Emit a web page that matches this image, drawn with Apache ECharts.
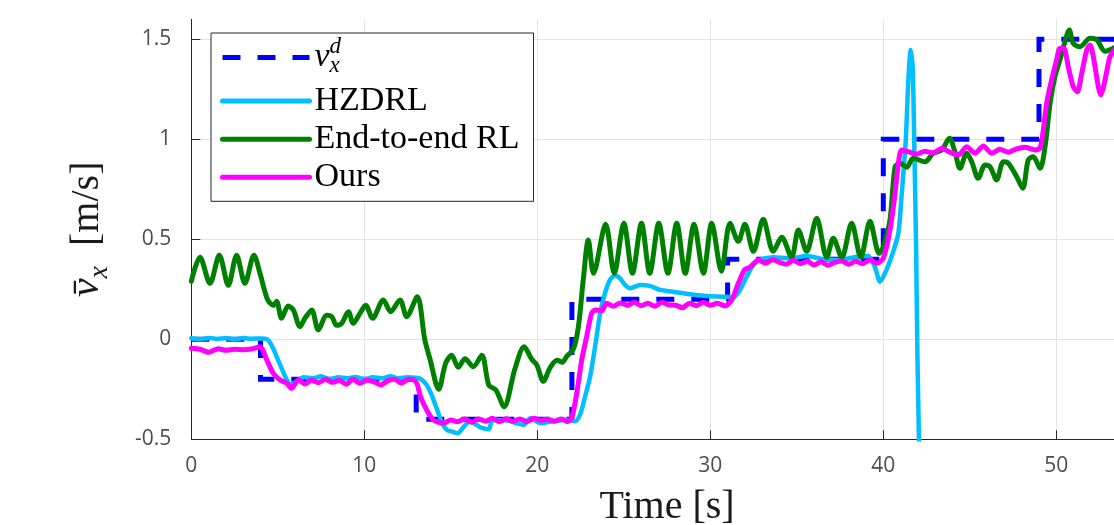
<!DOCTYPE html>
<html>
<head>
<meta charset="utf-8">
<script src="https://cdn.jsdelivr.net/npm/echarts@6.0.0/dist/echarts.min.js"></script>
<style>html,body{margin:0;padding:0;background:#fff;}#main{width:1114px;height:525px;}</style>
</head>
<body>
<div id="main"></div>
<script>
// ---- data ----
const seriesNames = ['v_x^d', 'HZDRL', 'End-to-end RL', 'Ours'];
const xTicks = [0, 10, 20, 30, 40, 50];
const yTicks = [-0.5, 0, 0.5, 1, 1.5];

const refT = [0, 4, 4, 13, 13, 22, 22, 31, 31, 40, 40, 49, 49, 55];
const refV = [0, 0, -0.2, -0.2, -0.4, -0.4, 0.2, 0.2, 0.4, 0.4, 1.0, 1.0, 1.5, 1.5];

const hzT = [0, 0.5, 1, 1.5, 2, 2.5, 3, 3.5, 4, 4.4, 4.7, 5.0, 5.25, 5.5, 5.75, 6.0, 6.5, 7, 7.5, 8, 8.5, 9, 9.5, 10, 10.5, 11, 11.5, 12, 12.5, 13, 13.3, 13.6, 13.9, 14.2, 14.5, 14.8, 15.1, 15.4, 15.75, 16.1, 16.7, 17.2, 17.4, 18.2, 18.8, 19.2, 19.6, 20.2, 20.9, 21.7, 22.2, 22.5, 22.76, 23.05, 23.34, 23.63, 23.91, 24.2, 24.49, 24.78, 25.07, 25.36, 25.94, 26.5, 27.09, 27.86, 28.83, 29.79, 30.85, 31.33, 31.72, 32.1, 32.49, 32.87, 33.64, 34.6, 35.57, 36.53, 37.5, 38.46, 39.13, 39.52, 39.81, 40.2, 40.58, 40.87, 41.06, 41.3, 41.45, 41.58, 41.7, 41.8, 41.9, 41.97, 42.06, 42.15];
const hzV = [0.005, 0.0, 0.007, 0.002, 0.006, 0.0, 0.006, 0.003, 0.004, 0.0, -0.04, -0.1, -0.15, -0.2, -0.225, -0.215, -0.19, -0.195, -0.185, -0.2, -0.19, -0.195, -0.188, -0.2, -0.19, -0.195, -0.185, -0.195, -0.19, -0.192, -0.2, -0.228, -0.28, -0.35, -0.42, -0.455, -0.462, -0.47, -0.437, -0.41, -0.44, -0.45, -0.403, -0.405, -0.42, -0.428, -0.395, -0.42, -0.41, -0.403, -0.41, -0.37, -0.287, -0.187, -0.037, 0.13, 0.23, 0.297, 0.32, 0.305, 0.272, 0.255, 0.272, 0.267, 0.247, 0.238, 0.225, 0.217, 0.213, 0.21, 0.247, 0.313, 0.372, 0.397, 0.41, 0.405, 0.417, 0.4, 0.397, 0.413, 0.417, 0.36, 0.288, 0.35, 0.44, 0.53, 0.72, 1.0, 1.3, 1.447, 1.35, 0.93, 0.43, -0.07, -0.495, -0.9];

const e2eT = [0, 0.5, 1.08, 1.62, 2.14, 2.62, 3.1, 3.62, 3.97, 4.4, 4.74, 4.93, 5.22, 5.6, 5.9, 6.28, 6.57, 6.96, 7.34, 7.83, 8.12, 8.4, 8.69, 9.08, 9.36, 9.75, 10.08, 10.48, 11.1, 11.52, 12.06, 12.45, 13.06, 13.5, 13.8, 14.3, 14.7, 15.05, 15.43, 15.82, 16.3, 16.79, 17.2, 17.6, 18.08, 18.7, 19.24, 19.68, 19.97, 20.35, 20.75, 21.15, 21.45, 21.7, 22.08, 22.37, 22.66, 22.95, 23.25, 23.95, 24.45, 25.0, 25.5, 26.02, 26.5, 27.02, 27.55, 28.06, 28.55, 29.06, 29.6, 30.08, 30.64, 31.14, 31.62, 32.0, 32.49, 33.06, 33.64, 34.13, 34.7, 35.09, 35.57, 36.15, 36.73, 37.11, 37.6, 38.17, 38.7, 39.23, 39.76, 40.0, 40.39, 40.68, 40.97, 41.35, 41.73, 42.41, 42.89, 43.38, 43.82, 44.14, 44.43, 44.82, 45.11, 45.49, 45.88, 46.17, 46.55, 46.94, 47.23, 47.71, 48.06, 48.38, 48.67, 49.06, 49.35, 49.64, 49.92, 50.21, 50.5, 50.75, 50.98, 51.37, 51.95, 52.34, 52.82, 53.4];
const e2eV = [0.29, 0.41, 0.28, 0.42, 0.27, 0.42, 0.28, 0.42, 0.33, 0.2, 0.17, 0.19, 0.105, 0.166, 0.147, 0.063, 0.105, 0.147, 0.047, 0.12, 0.113, 0.07, 0.08, 0.138, 0.08, 0.13, 0.17, 0.105, 0.197, 0.138, 0.197, 0.113, 0.213, -0.004, -0.1, -0.25, -0.12, -0.08, -0.14, -0.097, -0.137, -0.08, -0.23, -0.253, -0.337, -0.15, -0.037, -0.1, -0.128, -0.21, -0.14, -0.105, -0.115, -0.085, -0.05, 0.06, 0.3, 0.497, 0.33, 0.575, 0.33, 0.58, 0.33, 0.58, 0.33, 0.58, 0.33, 0.58, 0.33, 0.575, 0.33, 0.58, 0.34, 0.58, 0.49, 0.575, 0.44, 0.6, 0.44, 0.51, 0.41, 0.547, 0.44, 0.605, 0.41, 0.505, 0.41, 0.58, 0.41, 0.59, 0.43, 0.463, 0.6, 0.86, 0.88, 0.86, 0.905, 0.888, 0.93, 0.947, 1.005, 0.938, 0.855, 0.93, 0.888, 0.805, 0.872, 0.863, 0.797, 0.888, 0.88, 0.813, 0.755, 0.897, 0.913, 0.855, 0.963, 1.18, 1.313, 1.397, 1.488, 1.547, 1.48, 1.463, 1.505, 1.497, 1.44, 1.46];

const oursT = [0, 0.5, 1.0, 1.55, 2.0, 2.5, 3.0, 3.5, 3.97, 4.36, 4.74, 5.13, 5.51, 5.8, 6.19, 6.57, 6.95, 7.35, 7.75, 8.15, 8.55, 8.95, 9.35, 9.75, 10.15, 10.55, 10.95, 11.35, 11.75, 12.15, 12.55, 12.85, 13.05, 13.25, 13.6, 13.99, 14.57, 15.0, 15.4, 15.8, 16.2, 16.6, 17.0, 17.4, 17.8, 18.2, 18.6, 19.0, 19.4, 19.8, 20.2, 20.6, 21.0, 21.4, 21.75, 22.0, 22.28, 22.57, 22.85, 23.14, 23.34, 23.72, 24.01, 24.4, 24.8, 25.2, 25.6, 26.0, 26.4, 26.8, 27.2, 27.6, 28.0, 28.4, 28.8, 29.2, 29.6, 30.0, 30.4, 30.85, 31.24, 31.62, 32.0, 32.29, 32.78, 33.2, 33.6, 34.0, 34.4, 34.8, 35.2, 35.6, 36.0, 36.4, 36.8, 37.2, 37.6, 38.0, 38.4, 38.8, 39.23, 39.62, 40.0, 40.39, 40.68, 40.87, 41.06, 41.45, 41.9, 42.4, 42.9, 43.38, 43.86, 44.34, 44.82, 45.3, 45.78, 46.26, 46.74, 47.22, 47.7, 48.2, 48.77, 49.06, 49.25, 49.44, 49.73, 50.02, 50.21, 50.44, 50.69, 50.98, 51.22, 51.47, 51.76, 51.95, 52.14, 52.43, 52.57, 52.82, 53.1, 53.4];
const oursV = [-0.045, -0.05, -0.065, -0.047, -0.055, -0.05, -0.052, -0.048, -0.037, -0.103, -0.17, -0.203, -0.22, -0.245, -0.203, -0.223, -0.205, -0.217, -0.2, -0.215, -0.205, -0.225, -0.2, -0.22, -0.205, -0.213, -0.228, -0.208, -0.2, -0.22, -0.2, -0.203, -0.223, -0.287, -0.353, -0.403, -0.42, -0.403, -0.412, -0.398, -0.415, -0.398, -0.41, -0.395, -0.412, -0.397, -0.41, -0.398, -0.412, -0.395, -0.405, -0.4, -0.41, -0.398, -0.412, -0.39, -0.27, -0.103, 0.013, 0.13, 0.147, 0.143, 0.18, 0.165, 0.182, 0.17, 0.185, 0.168, 0.18, 0.165, 0.185, 0.172, 0.17, 0.158, 0.18, 0.168, 0.185, 0.17, 0.18, 0.167, 0.197, 0.28, 0.35, 0.36, 0.397, 0.38, 0.398, 0.385, 0.375, 0.395, 0.378, 0.39, 0.372, 0.388, 0.37, 0.385, 0.392, 0.375, 0.39, 0.378, 0.397, 0.38, 0.405, 0.547, 0.73, 0.88, 0.947, 0.938, 0.925, 0.94, 0.932, 0.955, 0.935, 0.922, 0.963, 0.93, 0.967, 0.93, 0.95, 0.935, 0.952, 0.96, 0.947, 0.955, 1.047, 1.18, 1.297, 1.397, 1.455, 1.455, 1.363, 1.263, 1.238, 1.33, 1.447, 1.472, 1.413, 1.263, 1.222, 1.297, 1.413, 1.45];

// ---- build chart ----
function pairs(t, v) {
  const n = Math.min(t.length, v.length);
  const out = [];
  for (let i = 0; i < n; i++) out.push([t[i], v[i]]);
  return out;
}
const SERIF = "'Liberation Serif', 'Times New Roman', serif";
const SANS = "'Open Sans', 'Noto Sans', sans-serif";

const chart = echarts.init(document.getElementById('main'), null, {renderer: 'canvas'});

function lineSeries(name, data, color, extra) {
  return Object.assign({
    name: name,
    type: 'line',
    data: data,
    symbol: 'none',
    showSymbol: false,
    silent: true,
    clip: true,
    animation: false,
    emphasis: {disabled: true},
    lineStyle: {color: color, width: 5, cap: 'round', join: 'round'},
    itemStyle: {color: color}
  }, extra || {});
}

const option = {
  animation: false,
  backgroundColor: '#ffffff',
  grid: {left: 191.3, top: 19.3, width: 951.5, height: 420, containLabel: false, outerBoundsMode: 'none'},
  xAxis: {
    type: 'value', min: 0, max: 55, interval: 10,
    name: 'Time [s]', nameLocation: 'middle', nameGap: 48,
    nameTextStyle: {fontFamily: SERIF, fontSize: 40, color: '#1a1a1a'},
    axisLine: {show: true, onZero: false, lineStyle: {color: '#262626', width: 1}},
    axisTick: {show: true, inside: true, length: 9, lineStyle: {color: '#262626', width: 1}, customValues: xTicks},
    axisLabel: {fontFamily: SANS, fontSize: 21, color: '#4d4d4d', margin: 16, customValues: xTicks},
    splitLine: {show: true, lineStyle: {color: '#e3e3e3', width: 1}}
  },
  yAxis: {
    type: 'value', min: -0.5, max: 1.6, interval: 0.5,
    name: '{v|v\u0304}{sub|x}{u|  [m/s]}', nameLocation: 'middle', nameGap: 81, nameRotate: 90,
    nameTextStyle: {
      fontFamily: SERIF, fontSize: 40, color: '#1a1a1a',
      rich: {
        v: {fontFamily: SERIF, fontStyle: 'italic', fontSize: 42, lineHeight: 46, color: '#1a1a1a'},
        sub: {fontFamily: SERIF, fontStyle: 'italic', fontSize: 28, lineHeight: 22, padding: [24, 0, 0, 0], color: '#1a1a1a'},
        u: {fontFamily: SERIF, fontSize: 40, lineHeight: 46, color: '#1a1a1a'}
      }
    },
    axisLine: {show: true, onZero: false, lineStyle: {color: '#262626', width: 1}},
    axisTick: {show: true, inside: true, length: 9, lineStyle: {color: '#262626', width: 1}, customValues: yTicks},
    axisLabel: {fontFamily: SANS, fontSize: 21, color: '#4d4d4d', margin: 20, customValues: yTicks},
    splitLine: {show: true, lineStyle: {color: '#e3e3e3', width: 1}}
  },
  legend: {
    show: true,
    orient: 'vertical',
    left: 211, top: 33,
    padding: [2, 9, 7, 9],
    itemGap: 4.1,
    itemWidth: 87,
    itemHeight: 20,
    selectedMode: false,
    backgroundColor: '#ffffff',
    borderColor: '#262626',
    borderWidth: 1,
    lineStyle: {width: 5},
    itemStyle: {opacity: 0, borderWidth: 0},
    data: seriesNames,
    formatter: function (name) {
      if (name === seriesNames[0]) return '{v|v}{sub|x}{sup|d}';
      return name;
    },
    textStyle: {
      fontFamily: SERIF, fontSize: 34, color: '#000', width: 210, lineHeight: 34,
      rich: {
        v: {fontFamily: SERIF, fontStyle: 'italic', fontSize: 34, lineHeight: 34, color: '#000'},
        sub: {fontFamily: SERIF, fontStyle: 'italic', fontSize: 23, lineHeight: 18, width: 0.01, padding: [16, 0, 0, 0], color: '#000'},
        sup: {fontFamily: SERIF, fontStyle: 'italic', fontSize: 23, lineHeight: 12, padding: [0, 0, 22, 0], color: '#000'}
      }
    }
  },
  series: [
    lineSeries(seriesNames[0], pairs(refT, refV), '#0000ff', {
      lineStyle: {color: '#0000ff', width: 5, type: [18, 17], cap: 'butt', join: 'miter'}, z: 2
    }),
    lineSeries(seriesNames[1], pairs(hzT, hzV), '#00bfff', {smooth: 0.25, z: 3,
      lineStyle: {color: '#00bfff', width: 4.5, cap: 'round', join: 'round'}}),
    lineSeries(seriesNames[2], pairs(e2eT, e2eV), '#008000', {smooth: 0.3, z: 4}),
    lineSeries(seriesNames[3], pairs(oursT, oursV), '#ff00ff', {smooth: 0.25, z: 5})
  ]
};
chart.setOption(option);
</script>
</body>
</html>
